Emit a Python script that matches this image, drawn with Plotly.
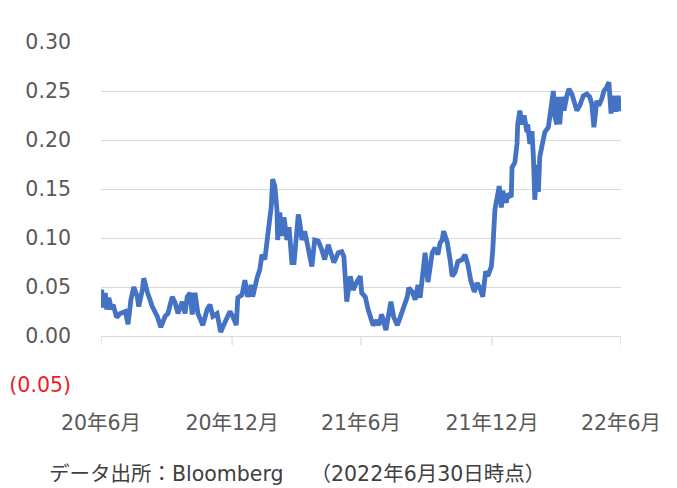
import plotly.graph_objects as go

# Daily readings of the spread (2020/6/30 - 2022/6/30)
dates = [
    "2020-06-30", "2020-07-01", "2020-07-03", "2020-07-06", "2020-07-08", "2020-07-11",
    "2020-07-15", "2020-07-17", "2020-07-22", "2020-07-27", "2020-08-03", "2020-08-07",
    "2020-08-11", "2020-08-15", "2020-08-20", "2020-08-22", "2020-08-27", "2020-08-29",
    "2020-09-03", "2020-09-05", "2020-09-10", "2020-09-17", "2020-09-22", "2020-09-28",
    "2020-10-02", "2020-10-08", "2020-10-12", "2020-10-16", "2020-10-22", "2020-10-26",
    "2020-10-29", "2020-11-02", "2020-11-05", "2020-11-09", "2020-11-13", "2020-11-20",
    "2020-11-26", "2020-11-30", "2020-12-04", "2020-12-10", "2020-12-15", "2020-12-21",
    "2020-12-28", "2021-01-01", "2021-01-06", "2021-01-08", "2021-01-14", "2021-01-18",
    "2021-01-22", "2021-01-27", "2021-01-29", "2021-02-04", "2021-02-08", "2021-02-11",
    "2021-02-15", "2021-02-19", "2021-02-24", "2021-02-26", "2021-03-01", "2021-03-04",
    "2021-03-05", "2021-03-08", "2021-03-11", "2021-03-14", "2021-03-18", "2021-03-21",
    "2021-03-25", "2021-03-28", "2021-04-03", "2021-04-05", "2021-04-08", "2021-04-12",
    "2021-04-17", "2021-04-22", "2021-04-26", "2021-05-01", "2021-05-06", "2021-05-10",
    "2021-05-15", "2021-05-19", "2021-05-23", "2021-05-29", "2021-06-03", "2021-06-06",
    "2021-06-10", "2021-06-15", "2021-06-19", "2021-06-24", "2021-06-29", "2021-07-01",
    "2021-07-06", "2021-07-10", "2021-07-13", "2021-07-17", "2021-07-22", "2021-07-25",
    "2021-07-29", "2021-08-04", "2021-08-07", "2021-08-11", "2021-08-15", "2021-08-20",
    "2021-08-24", "2021-08-28", "2021-09-03", "2021-09-05", "2021-09-10", "2021-09-14",
    "2021-09-18", "2021-09-21", "2021-09-24", "2021-09-28", "2021-10-02", "2021-10-05",
    "2021-10-08", "2021-10-12", "2021-10-16", "2021-10-19", "2021-10-22", "2021-10-24",
    "2021-10-29", "2021-11-02", "2021-11-05", "2021-11-09", "2021-11-13", "2021-11-19",
    "2021-11-23", "2021-11-27", "2021-12-01", "2021-12-06", "2021-12-10", "2021-12-14",
    "2021-12-18", "2021-12-22", "2021-12-25", "2021-12-30", "2022-01-01", "2022-01-04",
    "2022-01-07", "2022-01-10", "2022-01-13", "2022-01-15", "2022-01-20", "2022-01-22",
    "2022-01-27", "2022-01-28", "2022-02-01", "2022-02-04", "2022-02-05", "2022-02-08",
    "2022-02-11", "2022-02-14", "2022-02-18", "2022-02-19", "2022-02-22", "2022-02-25",
    "2022-02-27", "2022-03-01", "2022-03-04", "2022-03-06", "2022-03-08", "2022-03-11",
    "2022-03-15", "2022-03-20", "2022-03-22", "2022-03-25", "2022-03-27", "2022-03-29",
    "2022-04-01", "2022-04-03", "2022-04-05", "2022-04-08", "2022-04-11", "2022-04-15",
    "2022-04-18", "2022-04-22", "2022-04-25", "2022-04-29", "2022-05-03", "2022-05-08",
    "2022-05-13", "2022-05-17", "2022-05-20", "2022-05-23", "2022-05-27", "2022-05-30",
    "2022-06-03", "2022-06-06", "2022-06-10", "2022-06-13", "2022-06-16", "2022-06-19",
    "2022-06-23", "2022-06-26", "2022-06-29", "2022-06-30",
]
values = [
    0.045, 0.047, 0.029, 0.044, 0.027, 0.039,
    0.027, 0.032, 0.019, 0.023, 0.025, 0.012,
    0.037, 0.050, 0.040, 0.030, 0.047, 0.059,
    0.045, 0.040, 0.030, 0.020, 0.009, 0.020,
    0.023, 0.040, 0.034, 0.023, 0.035, 0.023,
    0.040, 0.044, 0.022, 0.044, 0.023, 0.011,
    0.027, 0.032, 0.020, 0.023, 0.004, 0.014,
    0.025, 0.020, 0.011, 0.039, 0.042, 0.057,
    0.040, 0.052, 0.040, 0.059, 0.068, 0.083,
    0.078, 0.102, 0.132, 0.160, 0.153, 0.129,
    0.098, 0.126, 0.102, 0.121, 0.098, 0.111,
    0.075, 0.075, 0.124, 0.116, 0.098, 0.107,
    0.091, 0.071, 0.098, 0.097, 0.088, 0.078,
    0.093, 0.083, 0.075, 0.085, 0.086, 0.081,
    0.035, 0.061, 0.047, 0.055, 0.061, 0.044,
    0.040, 0.027, 0.019, 0.011, 0.016, 0.011,
    0.022, 0.006, 0.019, 0.035, 0.019, 0.011,
    0.019, 0.027, 0.040, 0.049, 0.045, 0.037,
    0.052, 0.039, 0.059, 0.085, 0.055, 0.071,
    0.085, 0.090, 0.083, 0.095, 0.098, 0.107,
    0.096, 0.078, 0.061, 0.065, 0.076, 0.078,
    0.083, 0.073, 0.057, 0.045, 0.054, 0.049,
    0.040, 0.066, 0.061, 0.071, 0.088, 0.129,
    0.140, 0.153, 0.131, 0.148, 0.136, 0.145,
    0.142, 0.172, 0.177, 0.196, 0.216, 0.230,
    0.216, 0.225, 0.208, 0.216, 0.196, 0.209,
    0.183, 0.139, 0.175, 0.147, 0.183, 0.194,
    0.208, 0.213, 0.224, 0.240, 0.250, 0.224,
    0.216, 0.244, 0.216, 0.244, 0.230, 0.245,
    0.252, 0.247, 0.240, 0.230, 0.235, 0.245,
    0.247, 0.244, 0.237, 0.213, 0.240, 0.235,
    0.242, 0.250, 0.254, 0.259, 0.227, 0.245,
    0.229, 0.245, 0.230, 0.232,
]

x_tick_dates = ["2020-06-30", "2020-12-31", "2021-06-30", "2021-12-31", "2022-06-30"]
x_tick_labels = ["20年6月", "20年12月", "21年6月", "21年12月", "22年6月"]

y_tick_vals = [-0.05, 0.00, 0.05, 0.10, 0.15, 0.20, 0.25, 0.30]
y_tick_labels = ["<span style='color:#ee1c25'>(0.05)</span>", "0.00", "0.05", "0.10",
                 "0.15", "0.20", "0.25", "0.30"]

footnote = "データ出所：Bloomberg\u3000\u00a0（2022年6月30日時点）"

GRID = "#d9d9d9"
TEXT = "#595959"
FONT = "DejaVu Sans, Noto Sans CJK JP, sans-serif"

fig = go.Figure()
fig.add_trace(go.Scatter(
    x=dates, y=values, mode="lines",
    line=dict(color="#4472c4", width=4.8, shape="linear"),
    showlegend=False, hoverinfo="skip",
))

# small tick marks hanging below the zero line
tick_depth = 0.0095
shapes = [
    dict(type="line", xref="x", yref="y", x0=d, x1=d, y0=0, y1=-tick_depth,
         line=dict(color=GRID, width=1.2), layer="below")
    for d in x_tick_dates
]

fig.update_layout(
    width=677, height=488,
    margin=dict(l=101, r=56, t=42, b=103),
    paper_bgcolor="white", plot_bgcolor="white",
    font=dict(family=FONT, color=TEXT, size=20),
    shapes=shapes,
    xaxis=dict(
        type="date", automargin=False,
        range=[x_tick_dates[0], x_tick_dates[-1]],
        tickvals=x_tick_dates, ticktext=x_tick_labels,
        showgrid=False, zeroline=False, showline=False,
        ticks="", ticklabelstandoff=23,
        tickfont=dict(size=20.5, color=TEXT, family=FONT),
    ),
    yaxis=dict(
        automargin=False,
        range=[-0.05, 0.30],
        tickvals=y_tick_vals, ticktext=y_tick_labels,
        showgrid=True, gridcolor=GRID, gridwidth=1.2,
        zeroline=False, showline=False,
        ticks="", ticklabelstandoff=29,
        tickfont=dict(size=20.5, color=TEXT, family=FONT),
    ),
    annotations=[dict(
        text=footnote, xref="paper", yref="paper",
        x=(47 - 101) / 520, y=(385 - 474) / 343,
        xanchor="left", yanchor="middle", showarrow=False,
        font=dict(size=20.5, color="#404040", family=FONT),
    )],
)

fig.write_html("out.html")
